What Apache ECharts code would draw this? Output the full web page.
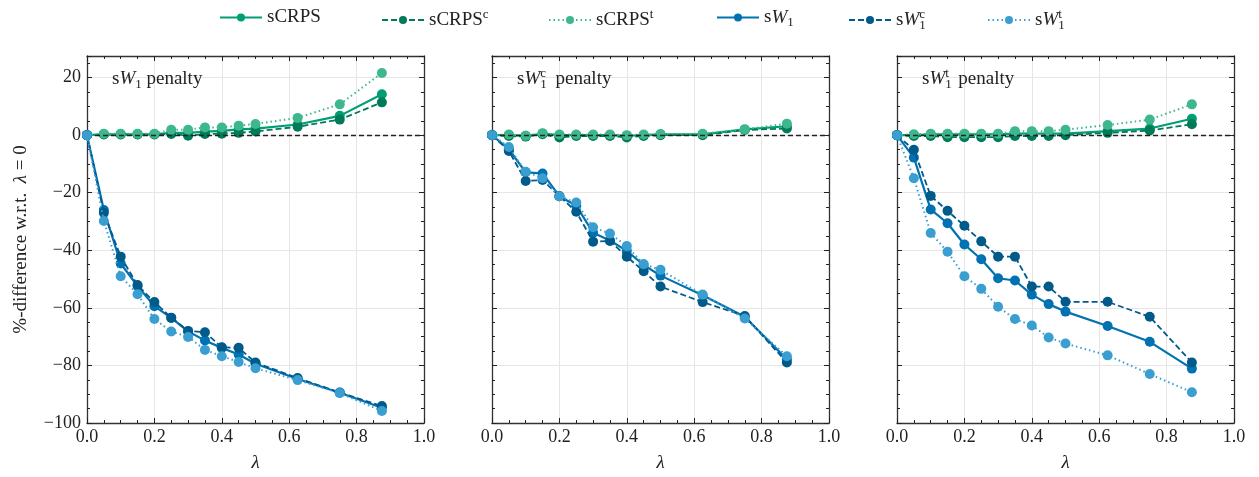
<!DOCTYPE html>
<html>
<head>
<meta charset="utf-8">
<script src="https://cdn.jsdelivr.net/npm/echarts@6/dist/echarts.min.js"></script>
<style>
  html, body { margin: 0; padding: 0; background: #fff; }
  #chart { width: 1259px; height: 477px; }
</style>
</head>
<body>
<div id="chart"></div>
<script>
// lambda values (x axis)
const lambdas = [0, 0.05, 0.1, 0.15, 0.2, 0.25, 0.3, 0.35, 0.4, 0.45, 0.5, 0.625, 0.75, 0.875]

// panel 1: sW1 penalty
const p1Crps = [0, 0.3, 0.3, 0.3, 0.3, 0.8, 0.8, 1.2, 1.5, 2.0, 2.3, 3.7, 6.7, 14.2]
const p1CrpsC = [0, 0.2, 0.2, 0.2, 0.2, 0.4, -0.2, 0.4, 0.5, 0.8, 1.3, 2.9, 5.4, 11.4]
const p1CrpsT = [0, 0.5, 0.5, 0.5, 0.5, 1.9, 1.9, 2.7, 2.7, 3.3, 3.9, 6.0, 10.7, 21.6]
const p1W1 = [0, -26, -44.6, -52.4, -59.4, -63.5, -68.2, -71.3, -73.9, -76.2, -79.4, -84.7, -89.5, -94.7]
const p1W1C = [0, -27, -42.2, -52.1, -58.0, -63.4, -68.0, -68.5, -73.7, -73.9, -79.0, -84.4, -89.4, -94.1]
const p1W1T = [0, -29.8, -49.0, -55.3, -63.9, -68.2, -70.1, -74.6, -76.8, -78.8, -81.0, -85.1, -89.6, -95.8]

// panel 2: sW1^c penalty
const p2Crps = [0, 0, -0.2, 0.5, 0, 0, 0, 0, -0.2, 0, 0.3, 0.3, 2.0, 3.1]
const p2CrpsC = [0, -0.3, -0.5, 0.3, -0.8, -0.3, -0.3, -0.3, -0.8, -0.3, 0, 0, 1.8, 2.3]
const p2CrpsT = [0, 0.2, -0.2, 0.7, 0.2, 0.2, 0.2, 0.2, 0, 0.2, 0.3, 0.5, 2.0, 4.0]
const p2W1 = [0, -4.9, -12.9, -13.3, -21.2, -24.5, -33.9, -36.6, -40.2, -45.1, -48.8, -55.6, -63.1, -77.9]
const p2W1C = [0, -5.5, -15.9, -15.6, -21.2, -26.6, -37.0, -36.8, -42.2, -47.3, -52.6, -58.0, -62.8, -79.0]
const p2W1T = [0, -4.1, -12.7, -15.0, -21.2, -23.4, -32.0, -34.2, -38.5, -44.8, -46.8, -55.4, -63.7, -76.8]

// panel 3: sW1^t penalty
const p3Crps = [0, 0, 0.3, 0.3, 0.3, 0.3, 0.3, 0.5, 0.5, 0.5, 0.5, 1.4, 2.3, 5.7]
const p3CrpsC = [0, -0.3, -0.3, -0.7, -0.7, -0.7, -0.7, -0.3, -0.3, -0.3, 0, 0.8, 1.6, 3.8]
const p3CrpsT = [0, 0.3, 0.5, 0.5, 0.5, 0.5, 0.5, 1.4, 1.4, 1.4, 1.9, 3.5, 5.4, 10.7]
const p3W1 = [0, -7.8, -25.8, -30.6, -38.0, -43.1, -49.7, -50.5, -55.4, -58.7, -61.3, -66.3, -71.8, -81.1]
const p3W1C = [0, -5.1, -21.1, -26.3, -31.5, -36.9, -42.2, -42.2, -52.6, -52.6, -57.9, -57.9, -63.1, -79.0]
const p3W1T = [0, -15.0, -34.0, -40.5, -49.0, -53.4, -59.6, -63.9, -66.1, -70.3, -72.4, -76.5, -83.0, -89.3]

const yTicks = [-100, -80, -60, -40, -20, 0, 20]

const seriesNames = ['sCRPS', 'sCRPSc', 'sCRPSt', 'sW1', 'sW1c', 'sW1t']
const legendLabels = {
  sCRPS: '{n|sCRPS}',
  sCRPSc: '{n|sCRPS}{sup|c}',
  sCRPSt: '{n|sCRPS}{sup|t}',
  sW1: '{n|s}{it|W}{sub|1}',
  sW1c: '{n|s}{it|W}{subz|1}{sup|c}',
  sW1t: '{n|s}{it|W}{subz|1}{sup|t}'
}
const panelTitles = [
  '{n|s}{it|W}{sub|1}{n| penalty}',
  '{n|s}{it|W}{subz|1}{sup|c}{n|  penalty}',
  '{n|s}{it|W}{subz|1}{sup|t}{n|  penalty}'
]
const panels = [
  [p1Crps, p1CrpsC, p1CrpsT, p1W1, p1W1C, p1W1T],
  [p2Crps, p2CrpsC, p2CrpsT, p2W1, p2W1C, p2W1T],
  [p3Crps, p3CrpsC, p3CrpsT, p3W1, p3W1C, p3W1T]
]

const colors = ['#009E73', '#007A59', '#3DB88C', '#0072B2', '#005A8A', '#3A9FD0']
const lineTypes = ['solid', [6, 3], [1.5, 3], 'solid', [6, 3], [1.5, 3]]
const lineWidths = [2.2, 1.8, 2, 2.2, 1.8, 2]
const legendLeft = [214, 376, 543, 711, 843, 982]

const font = 'Liberation Serif'
const base = { fontFamily: font, color: '#222', fontWeight: 'normal' }
const rich = {
  n: Object.assign({ fontSize: 19, lineHeight: 24 }, base),
  it: Object.assign({ fontSize: 19, fontStyle: 'italic', lineHeight: 24 }, base),
  sub: Object.assign({ fontSize: 13, verticalAlign: 'bottom', lineHeight: 14 }, base),
  subz: Object.assign({ fontSize: 13, verticalAlign: 'bottom', lineHeight: 14, width: 0 }, base),
  sup: Object.assign({ fontSize: 13, verticalAlign: 'top', lineHeight: 12 }, base)
}

const gridLefts = [87, 492, 897]
const fmtNum = v => (v < 0 ? '\u2212' + Math.abs(v) : '' + v)

let grid = []
let xAxis = []
let yAxis = []
let series = []
let title = []

gridLefts.forEach((left, g) => {
  grid.push({ left: left, top: 56, width: 337, height: 372 })
  const tick = { show: true, inside: true, length: 5, lineStyle: { color: '#222', width: 1 } }
  const minor = { show: true, splitNumber: 4, length: 3, lineStyle: { color: '#222', width: 1 } }
  const line = { show: true, onZero: false, lineStyle: { color: '#333', width: 1.3 } }
  xAxis.push({
    type: 'value', gridIndex: g, position: 'bottom', min: 0, max: 1, interval: 0.2,
    axisLine: line, axisTick: tick, minorTick: minor,
    axisLabel: { fontFamily: font, fontSize: 18, color: '#222', margin: 5, formatter: v => v.toFixed(1) },
    splitLine: { show: true, lineStyle: { color: '#e6e6e6', width: 1 } },
    name: 'λ', nameLocation: 'middle', nameGap: 30,
    nameTextStyle: { fontFamily: font, fontSize: 19, fontStyle: 'italic', color: '#222' }
  })
  xAxis.push({
    type: 'value', gridIndex: g, position: 'top', min: 0, max: 1, interval: 0.2,
    axisLine: line, axisTick: tick, minorTick: minor,
    axisLabel: { show: false }, splitLine: { show: false }
  })
  yAxis.push({
    type: 'value', gridIndex: g, position: 'left', min: -100, max: 27.5, interval: 20,
    axisLine: line, axisTick: tick, minorTick: minor,
    axisLabel: {
      show: g === 0, fontFamily: font, fontSize: 18, color: '#222', margin: 6,
      formatter: v => (yTicks.indexOf(v) >= 0 ? fmtNum(v) : '')
    },
    splitLine: { show: true, lineStyle: { color: '#e6e6e6', width: 1 } },
    name: g === 0 ? '{n|%-difference w.r.t.  }{it|λ}{n| = 0}' : '',
    nameLocation: 'middle', nameGap: 54, nameRotate: 90,
    nameTextStyle: { rich: rich }
  })
  yAxis.push({
    type: 'value', gridIndex: g, position: 'right', min: -100, max: 27.5, interval: 20,
    axisLine: line, axisTick: tick, minorTick: minor,
    axisLabel: { show: false }, splitLine: { show: false }
  })
  title.push({
    text: panelTitles[g], left: left + 20, top: 62,
    textStyle: { rich: rich }
  })
  panels[g].forEach((vals, k) => {
    const s = {
      name: seriesNames[k],
      type: 'line',
      xAxisIndex: 2 * g,
      yAxisIndex: 2 * g,
      data: lambdas.map((x, i) => [x, vals[i]]),
      symbol: 'circle',
      symbolSize: 10,
      showSymbol: true,
      color: colors[k],
      itemStyle: { color: colors[k], borderWidth: 0 },
      lineStyle: { color: colors[k], width: lineWidths[k], type: lineTypes[k] },
      emphasis: { disabled: true },
      z: 2 + k
    }
    if (k === 0) {
      s.markLine = {
        silent: true, symbol: ['none', 'none'], label: { show: false },
        lineStyle: { color: '#222', width: 1.3, type: [5, 3] },
        data: [{ yAxis: 0 }]
      }
    }
    series.push(s)
  })
})

const legend = seriesNames.map((nm, i) => ({
  data: [nm], left: legendLeft[i], top: 3,
  itemWidth: 42, itemHeight: 10, itemGap: 8,
  formatter: name => legendLabels[name],
  textStyle: { rich: rich }
}))

const chart = echarts.init(document.getElementById('chart'))
chart.setOption({
  animation: false,
  backgroundColor: '#fff',
  title: title,
  legend: legend,
  grid: grid,
  xAxis: xAxis,
  yAxis: yAxis,
  series: series
})
</script>
</body>
</html>
